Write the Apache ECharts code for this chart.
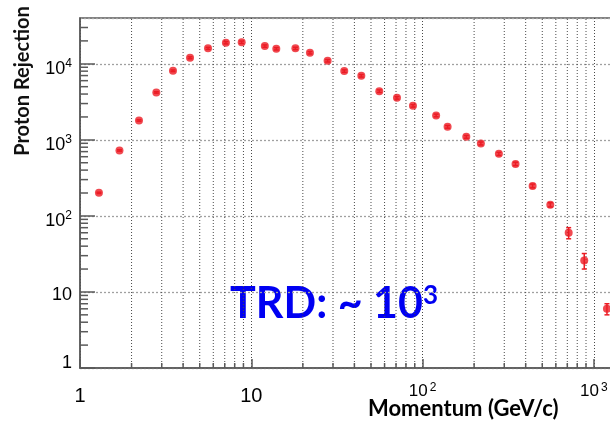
<!DOCTYPE html>
<html lang="en">
<head>
  <meta charset="UTF-8">
  <script src="https://cdn.jsdelivr.net/npm/echarts@6/dist/echarts.min.js"></script>
  <style>html, body { margin: 0; background: #fff; }</style>
</head>
<body>
  <div id="rejectionChart" style="width: 610px;height:430px;"></div>

  <script type="text/javascript">

    // momentum in GeV/c
    var momentum = [1.29, 1.70, 2.21, 2.79, 3.49, 4.39, 5.59, 7.11, 8.79, 12.0,
                    14.0, 18.1, 22.0, 27.9, 34.9, 43.9, 55.9, 70.9, 87.9, 120,
                    140, 180, 219, 279, 349, 439, 557, 713, 879, 1193];
    var rejection = [201, 726, 1800, 4200, 8090, 12000, 15950, 18900, 19200, 17100,
                     15750, 15950, 13960, 10950, 8020, 6950, 4370, 3570, 2800, 2094,
                     1483, 1095, 897, 654, 483, 248, 140, 60, 26, 6.0];
    var rejectionErr = [4, 15, 40, 90, 200, 350, 500, 650, 700, 600,
                        550, 550, 500, 400, 300, 260, 170, 140, 110, 85,
                        60, 45, 40, 30, 25, 14, 9, 10, 6, 1];

    var xDecades = [1, 10, 100, 1000];
    var yDecades = [1, 10, 100, 1000, 10000];
    var xRange = [1, 1500];
    var yRange = [1, 40000];

    function minorValues(decades, top) {
      var out = [];
      decades.forEach(function (d) {
        for (var k = 2; k <= 9; k++) {
          if (k * d < top) out.push(k * d);
        }
      });
      return out;
    }
    var xMinor = minorValues(xDecades, xRange[1]);
    var yMinor = minorValues(yDecades, yRange[1]);

    function exponentOf(v) {
      var e = Math.log10(v);
      var n = Math.round(e);
      return Math.abs(e - n) < 1e-6 ? n : null;
    }

    function createRejectionChart() {
      const chart = echarts.init(document.getElementById("rejectionChart"));
      const axisGray = '#5a5a5a';
      const red = '#ec1c24';

      let option = {
        animation: false,
        grid: {
          left: 80,
          top: 18,
          width: 544,
          height: 350,
          containLabel: false,
          outerBoundsMode: 'none',
          show: true,
          borderColor: axisGray,
          borderWidth: 1.5
        },
        xAxis: {
          type: 'log',
          logBase: 10,
          min: xRange[0],
          max: xRange[1],
          axisLine: { lineStyle: { color: axisGray, width: 1.5 } },
          axisTick: { inside: true, length: 9, lineStyle: { color: axisGray, width: 1.5 } },
          splitLine: { show: true, lineStyle: { color: '#4a4a4a', type: [1, 2], width: 1 } },
          axisLabel: {
            margin: 13,
            showMaxLabel: false,
            hideOverlap: false,
            formatter: function (v) {
              const n = exponentOf(v);
              if (n === null || n > 3) return '';
              if (n === 0) return '{a|1}';
              if (n === 1) return '{a|10}';
              return '{c|10}{s|' + n + '}';
            },
            rich: {
              a: { fontFamily: 'Liberation Sans', fontSize: 20, lineHeight: 20, padding: [10, 0, 0, 0], color: '#000' },
              c: { fontFamily: 'Liberation Sans', fontSize: 17, lineHeight: 17, padding: [8, 0, 5, 0], color: '#000' },
              s: { fontFamily: 'Liberation Sans', fontSize: 12, lineHeight: 12, padding: [7, 0, 11, 2], color: '#000' }
            }
          }
        },
        yAxis: {
          type: 'log',
          logBase: 10,
          min: yRange[0],
          max: yRange[1],
          axisLine: { lineStyle: { color: axisGray, width: 1.5 } },
          axisTick: { inside: true, length: 15, lineStyle: { color: axisGray, width: 1.5 } },
          splitLine: { show: true, lineStyle: { color: '#a0a0a0', type: [2, 2], width: 1.3 } },
          axisLabel: {
            margin: 8,
            showMaxLabel: false,
            formatter: function (v) {
              const n = exponentOf(v);
              if (n === null || n > 4) return '';
              if (n === 0) return '{one|1}';
              if (n === 1) return '{ten|10}';
              return '{b|10}{s|' + n + '}';
            },
            rich: {
              one: { fontFamily: 'Liberation Sans', fontSize: 18, lineHeight: 18, padding: [1, 0, 11, 0], color: '#000' },
              ten: { fontFamily: 'Liberation Sans', fontSize: 18, lineHeight: 18, padding: [9, 0, 3, 0], color: '#000' },
              b: { fontFamily: 'Liberation Sans', fontSize: 18, lineHeight: 18, padding: [11, 0, 1, 0], color: '#000' },
              s: { fontFamily: 'Liberation Sans', fontSize: 12, lineHeight: 12, padding: [9, 0, 9, 0], color: '#000' }
            }
          }
        },
        graphic: [
          {
            type: 'text',
            x: 23,
            y: 81,
            rotation: Math.PI / 2,
            style: {
              text: 'Proton Rejection',
              font: 'bold 20px Lato',
              fill: '#111',
              align: 'center',
              verticalAlign: 'middle'
            }
          },
          {
            type: 'text',
            left: 368,
            top: 398,
            style: { text: 'Momentum (GeV/c)', font: 'bold 22px Lato', fill: '#000' }
          },
          {
            type: 'text',
            left: 230,
            top: 283,
            style: {
              text: '{b|TRD: ~ 10}{s|3}',
              fill: '#0000f2',
              rich: {
                b: { font: 'bold 43px Lato', lineHeight: 43, fill: '#0000f2' },
                s: { font: 'bold 26px Lato', lineHeight: 26, verticalAlign: 'top', fill: '#0000f2' }
              }
            }
          }
        ],
        series: [
          {
            name: 'xMinorGrid',
            type: 'custom',
            silent: true,
            data: xMinor.map(v => [v, yRange[0]]),
            renderItem: function (params, api) {
              const bot = api.coord([api.value(0), yRange[0]]);
              const top = api.coord([api.value(0), yRange[1]]);
              return {
                type: 'group',
                children: [
                  { type: 'line', shape: { x1: bot[0], y1: bot[1], x2: top[0], y2: top[1] },
                    style: { stroke: '#4a4a4a', lineWidth: 1, lineDash: [1, 2] } },
                  { type: 'line', shape: { x1: bot[0], y1: bot[1], x2: bot[0], y2: bot[1] - 5 },
                    style: { stroke: axisGray, lineWidth: 1.5 } }
                ]
              };
            }
          },
          {
            name: 'yMinorTicks',
            type: 'custom',
            silent: true,
            data: yMinor.map(v => [xRange[0], v]),
            renderItem: function (params, api) {
              const p = api.coord([xRange[0], api.value(1)]);
              return { type: 'line', shape: { x1: p[0], y1: p[1], x2: p[0] + 8, y2: p[1] },
                       style: { stroke: axisGray, lineWidth: 1.5 } };
            }
          },
          {
            name: 'errors',
            type: 'custom',
            silent: true,
            data: momentum.map((m, i) => [m, rejection[i], rejectionErr[i]]),
            renderItem: function (params, api) {
              const x = api.value(0), y = api.value(1), e = api.value(2);
              const lo = api.coord([x, y - e]);
              const hi = api.coord([x, y + e]);
              const st = { stroke: red, lineWidth: 1.5 };
              return {
                type: 'group',
                children: [
                  { type: 'line', shape: { x1: lo[0], y1: lo[1], x2: hi[0], y2: hi[1] }, style: st },
                  { type: 'line', shape: { x1: lo[0] - 2.5, y1: lo[1], x2: lo[0] + 2.5, y2: lo[1] }, style: st },
                  { type: 'line', shape: { x1: hi[0] - 2.5, y1: hi[1], x2: hi[0] + 2.5, y2: hi[1] }, style: st }
                ]
              };
            }
          },
          {
            name: 'Proton Rejection',
            type: 'scatter',
            symbol: 'circle',
            symbolSize: 8,
            itemStyle: { color: red },
            data: momentum.map((m, i) => [m, rejection[i]])
          }
        ]
      };

      chart.setOption(option);
    }
    createRejectionChart();
  </script>
</body>
</html>
